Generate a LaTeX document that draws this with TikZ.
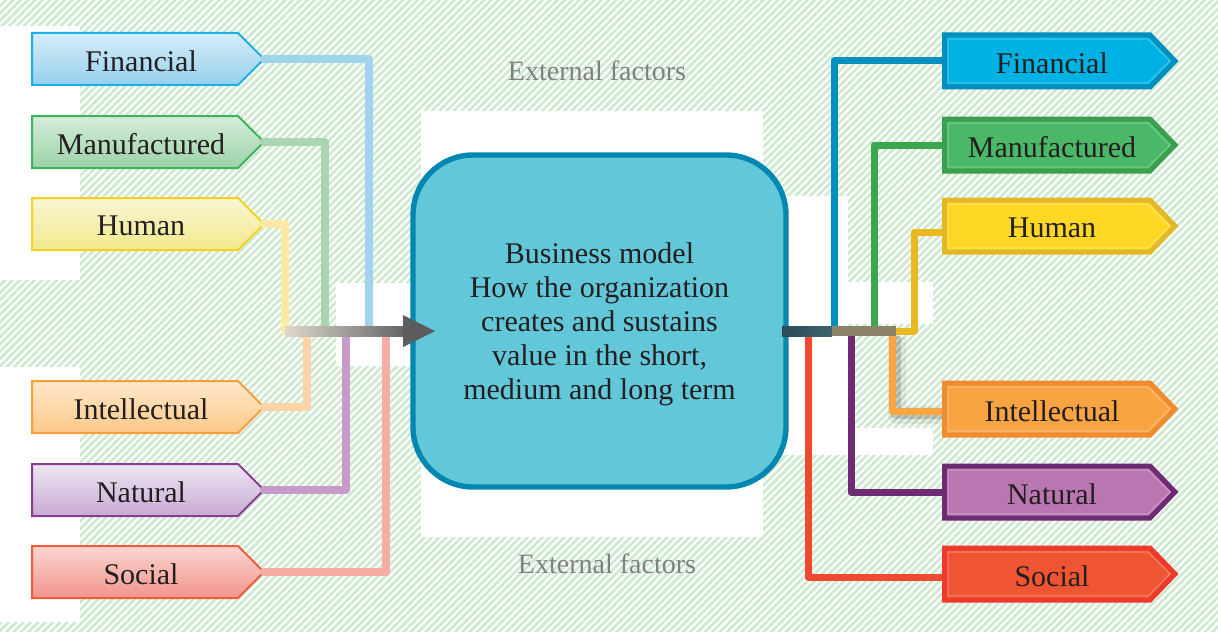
\documentclass[tikz,border=0pt]{standalone}
\usepackage{fontspec}
\setmainfont{Liberation Serif}
\usetikzlibrary{patterns.meta}
\definecolor{hatch}{RGB}{206,233,208}
\definecolor{txtc}{RGB}{35,31,32}
\definecolor{extc}{RGB}{128,128,128}
% left boxes
\definecolor{lfA}{RGB}{214,237,249}\definecolor{lfB}{RGB}{150,208,238}\definecolor{lfD}{RGB}{27,176,230}
\definecolor{lmA}{RGB}{214,237,218}\definecolor{lmB}{RGB}{155,210,168}\definecolor{lmD}{RGB}{60,180,90}
\definecolor{lhA}{RGB}{248,245,212}\definecolor{lhB}{RGB}{241,234,140}\definecolor{lhD}{RGB}{250,208,30}
\definecolor{liA}{RGB}{254,232,204}\definecolor{liB}{RGB}{253,200,135}\definecolor{liD}{RGB}{247,160,58}
\definecolor{lnA}{RGB}{237,230,242}\definecolor{lnB}{RGB}{200,170,212}\definecolor{lnD}{RGB}{138,60,146}
\definecolor{lsA}{RGB}{251,214,210}\definecolor{lsB}{RGB}{241,148,140}\definecolor{lsD}{RGB}{238,90,58}
% left connectors
\definecolor{lfC}{RGB}{160,212,236}\definecolor{lmC}{RGB}{170,213,176}\definecolor{lhC}{RGB}{253,233,166}
\definecolor{liC}{RGB}{253,211,168}\definecolor{lnC}{RGB}{198,155,201}\definecolor{lsC}{RGB}{246,173,165}
% right boxes
\definecolor{rfF}{RGB}{0,178,227}\definecolor{rfD}{RGB}{0,143,190}
\definecolor{rmF}{RGB}{74,184,102}\definecolor{rmD}{RGB}{58,160,78}
\definecolor{rhF}{RGB}{255,216,38}\definecolor{rhD}{RGB}{226,184,40}
\definecolor{riF}{RGB}{248,164,67}\definecolor{riD}{RGB}{240,140,48}
\definecolor{rnF}{RGB}{186,118,176}\definecolor{rnD}{RGB}{110,42,114}
\definecolor{rsF}{RGB}{240,85,51}\definecolor{rsD}{RGB}{238,58,42}
% right connectors
\definecolor{rfC}{RGB}{0,144,191}\definecolor{rmC}{RGB}{58,166,78}\definecolor{rhC}{RGB}{234,184,32}
\definecolor{riC}{RGB}{248,164,64}\definecolor{rnC}{RGB}{110,42,114}\definecolor{rsC}{RGB}{239,74,48}
% centre
\definecolor{bmF}{RGB}{98,199,216}\definecolor{bmD}{RGB}{0,136,179}
\definecolor{arA}{RGB}{222,216,204}\definecolor{arB}{RGB}{100,100,102}\definecolor{arT}{RGB}{92,92,94}
\definecolor{barA}{RGB}{46,72,86}\definecolor{barB}{RGB}{62,101,115}\definecolor{barC}{RGB}{140,132,104}

\newcommand\LBox[6]{%
  \path[top color=#4, bottom color=#5, draw=#6, line width=1pt]
    (32,#2-26) -- (238,#2-26) -- (264,#2) -- (238,#2+26) -- (32,#2+26) -- cycle;
  \node[txt] (#1) at (141,#2+2) {#3};
  \coordinate (#1-tip) at (264,#2);}
\newcommand\RBox[5]{%
  \path[fill=#4, draw=#5, line width=2.5pt, line join=miter]
    (944.5,#2-26) -- (1150,#2-26) -- (1175,#2) -- (1150,#2+26) -- (944.5,#2+26) -- cycle;
  \path[draw=white, opacity=.25, line width=0.6pt]
    (948,#2-22) -- (1148,#2-22) -- (1170,#2) -- (1148,#2+22) -- (948,#2+22) -- cycle;
  \node[txt] (#1) at (1052,#2+2) {#3};
  \coordinate (#1-w) at (942,#2);}

\begin{document}
\begin{tikzpicture}[x=0.5pt,y=-0.5pt,
  txt/.style={font=\fontsize{15pt}{17pt}\selectfont, inner sep=0pt, text=txtc},
  ext/.style={font=\fontsize{14pt}{16pt}\selectfont, inner sep=0pt, text=extc},
  lconn/.style={line width=4pt, line join=round, line cap=round},
  rconn/.style={line width=3.5pt, line join=round, line cap=butt},
  shadowline/.style={line width=5pt, black, opacity=.15, line join=round}]
\useasboundingbox (0,0) rectangle (1218,631);
% background
\fill[white] (0,0) rectangle (1218,631);
\fill[pattern={Lines[angle=45,distance=2.6pt,line width=1.35pt]}, pattern color=hatch] (0,0) rectangle (1218,631);
\fill[white] (0,26) rectangle (80,280);
\fill[white] (0,367) rectangle (80,622);
\fill[white] (421,111) rectangle (763,537);
\fill[white] (336,283) rectangle (421,366);
\fill[white] (763,196) rectangle (848,455);
\fill[white] (848,282) rectangle (933,324);
\fill[white] (848,428) rectangle (933,455);

% external factors
\node[ext] (ext1) at (597,71) {External factors};
\node[ext] (ext2) at (607,564) {External factors};

% left boxes
\LBox{lf}{59}{Financial}{lfA}{lfB}{lfD}
\LBox{lm}{142}{Manufactured}{lmA}{lmB}{lmD}
\LBox{lh}{224}{Human}{lhA}{lhB}{lhD}
\LBox{li}{407}{Intellectual}{liA}{liB}{liD}
\LBox{ln}{490}{Natural}{lnA}{lnB}{lnD}
\LBox{ls}{572}{Social}{lsA}{lsB}{lsD}

% arrow coordinates
\coordinate (ain) at (285,331);
\coordinate (a-f) at (369,331);
\coordinate (a-m) at (325,331);
\coordinate (a-i) at (307,331);
\coordinate (a-n) at (346,331);
\coordinate (a-s) at (386,331);

% left connectors
\draw[lconn, lfC] (lf-tip) -| (a-f);
\draw[lconn, lmC] (lm-tip) -| (a-m);
\draw[lconn, lhC] (lh-tip) -| (ain);
\draw[lconn, liC] (li-tip) -| (a-i);
\draw[lconn, lnC] (ln-tip) -| (a-n);
\draw[lconn, lsC] (ls-tip) -| (a-s);

% business model box
\node[draw=bmD, fill=bmF, line width=2.7pt, rounded corners=30pt,
      minimum width=186.5pt, minimum height=166pt] (bm) at (599.5,321) {};
\node[align=center, inner sep=0pt, font=\fontsize{15pt}{17pt}\selectfont, text=txtc] (bmtext) at (599.5,324)
  {Business model\\How the organization\\creates and sustains\\value in the short,\\medium and long term};

% left grey arrow
\shade[left color=arA, right color=arB] (285,326) rectangle (405,336);
\fill[arT] (403,315) -- (435,331) -- (403,347) -- cycle;
\coordinate (atip) at (435,331);

% right side coordinates
\coordinate (bar-s) at (782,331);
\coordinate (bar-f) at (834,331);
\coordinate (bar-m) at (874,331);
\coordinate (bar-i) at (892,331);
\coordinate (bar-n) at (851,331);
\coordinate (bar-x) at (808,331);
\coordinate (bar-end) at (896,331);

% right boxes
\RBox{rf}{61}{Financial}{rfF}{rfD}
\RBox{rm}{145}{Manufactured}{rmF}{rmD}
\RBox{rh}{226}{Human}{rhF}{rhD}
\RBox{ri}{409}{Intellectual}{riF}{riD}
\RBox{rn}{492}{Natural}{rnF}{rnD}
\RBox{rs}{574}{Social}{rsF}{rsD}

% shadow of intellectual connector
\draw[shadowline] ([shift={(2pt,-2.5pt)}]bar-i) |- ([shift={(0pt,-2.5pt)}]ri-w);
\draw[shadowline, line width=9pt, opacity=.07] ([shift={(2.5pt,-3pt)}]bar-i) |- ([shift={(0pt,-3pt)}]ri-w);

% right connectors
\draw[rconn, rfC] (bar-f) |- (rf-w);
\draw[rconn, rmC] (bar-m) |- (rm-w);
\draw[rconn, rhC] (bar-end) -| ([xshift=-14pt,yshift=-3pt]rh-w) -- ([yshift=-3pt]rh-w);
\draw[rconn, riC] (bar-i) |- ([yshift=-1pt]ri-w);
\draw[rconn, rnC] (bar-n) |- (rn-w);
\draw[rconn, rsC] (bar-x) |- ([yshift=-1.5pt]rs-w);

% right bar
\shade[left color=barA, right color=barB] (782,326) rectangle (832,336);
\fill[barC] (832,326) rectangle (896,336);
\end{tikzpicture}
\end{document}
